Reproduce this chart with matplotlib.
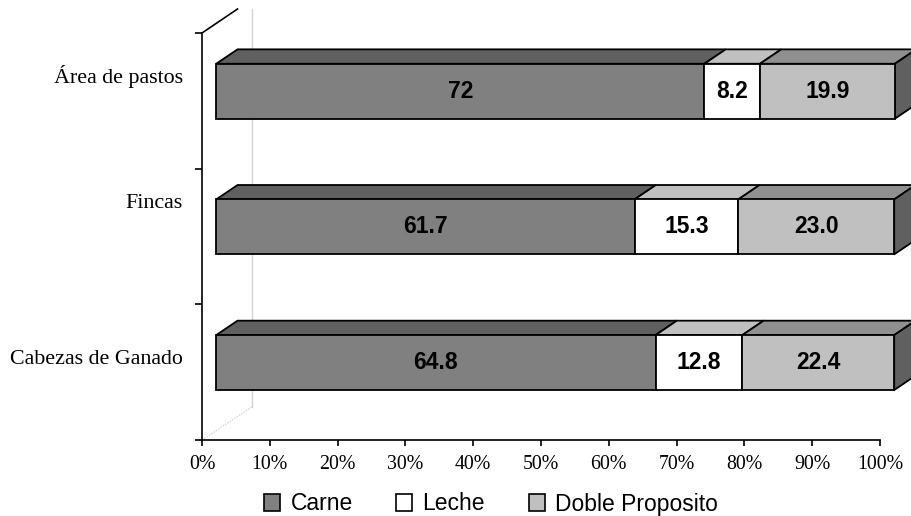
import matplotlib.pyplot as plt
from matplotlib.patches import Polygon, Patch

categories = ["Cabezas de Ganado", "Fincas", "Área de pastos"]
carne = [64.8, 61.7, 72]
leche = [12.8, 15.3, 8.2]
doble = [22.4, 23.0, 19.9]

series_names = ["Carne", "Leche", "Doble Proposito"]
series_values = [carne, leche, doble]
series_fmt = ["{:g}", "{:.1f}", "{:.1f}"]
x_ticks = [0, 10, 20, 30, 40, 50, 60, 70, 80, 90, 100]

# face colours: front, top, side
front_colors = ["#808080", "#ffffff", "#c0c0c0"]
top_colors = ["#606060", "#c0c0c0", "#909090"]
side_colors = ["#606060", "#808080", "#606060"]

# 3-D look: depth vector in data units, bars sit in the back part of it
depth_dx, depth_dy = 5.24, 0.177
front_frac = 0.4
bar_h = 0.405
wall_dx, wall_dy = 7.33, 0.243
label_nudge = [0.09, 0.24, 0.18]

fig = plt.figure(figsize=(9.12, 5.16), dpi=100)
ax = fig.add_axes([202 / 912, 76 / 516, 678 / 912, 407 / 516])
ax.set_xlim(0, 100)
ax.set_ylim(0, 3)

for s in ["top", "right"]:
    ax.spines[s].set_visible(False)
for s in ["left", "bottom"]:
    ax.spines[s].set_linewidth(1.2)

# walls
ax.plot([0, depth_dx], [3, 3 + depth_dy], color="black", lw=1.2, clip_on=False)
ax.plot([wall_dx, wall_dx], [wall_dy, 3 + depth_dy], color="#d4d4d4", lw=1, clip_on=False, zorder=0)
ax.plot([0, wall_dx], [0, wall_dy], color="#d4d4d4", lw=1, ls=(0, (1, 1)), clip_on=False, zorder=0)

fx, fy = front_frac * depth_dx, front_frac * depth_dy
bx, by = (1 - front_frac) * depth_dx, (1 - front_frac) * depth_dy

for i, cat in enumerate(categories):
    start = 0.0
    yc = i + 0.5 + fy
    yb, yt = yc - bar_h / 2, yc + bar_h / 2
    for k, vals in enumerate(series_values):
        w = vals[i]
        x0 = start + fx
        ax.barh(yc, w, left=x0, height=bar_h, color=front_colors[k],
                edgecolor="black", linewidth=1.3, clip_on=False, zorder=3)
        top = Polygon([(x0, yt), (x0 + w, yt), (x0 + w + bx, yt + by), (x0 + bx, yt + by)],
                      closed=True, facecolor=top_colors[k], edgecolor="black",
                      linewidth=1.3, clip_on=False, zorder=2)
        ax.add_patch(top)
        ax.text(x0 + w / 2, yc, series_fmt[k].format(w), ha="center", va="center",
                fontsize=16.5, fontweight="bold", family="Liberation Sans", zorder=4)
        start += w
    x1 = start + fx
    side = Polygon([(x1, yb), (x1, yt), (x1 + bx, yt + by), (x1 + bx, yb + by)],
                   closed=True, facecolor=side_colors[2], edgecolor="black",
                   linewidth=1.3, clip_on=False, zorder=2)
    ax.add_patch(side)
    ax.text(-2.8, i + 0.5 + label_nudge[i], cat, ha="right", va="center",
            fontsize=15.8, family="Liberation Serif")

ax.set_xticks(x_ticks)
ax.set_xticklabels([f"{t}%" for t in x_ticks], family="Liberation Serif", fontsize=14.3)
ax.set_yticks([0, 1, 2, 3])
ax.set_yticklabels([])
ax.tick_params(axis="x", direction="out", length=4, width=1.2, pad=7)
ax.tick_params(axis="y", direction="out", length=5, width=1.2)

handles = [Patch(facecolor=c, edgecolor="black", linewidth=1.2) for c in front_colors]
fig.legend(handles, series_names, loc="center", bbox_to_anchor=(491 / 912, 12 / 516),
           ncol=3, frameon=False, handlelength=0.7, handleheight=0.7,
           handletextpad=0.45, columnspacing=1.9, borderpad=0,
           prop={"family": "Liberation Sans", "size": 16.5})

fig.savefig("out.png", dpi=100)
